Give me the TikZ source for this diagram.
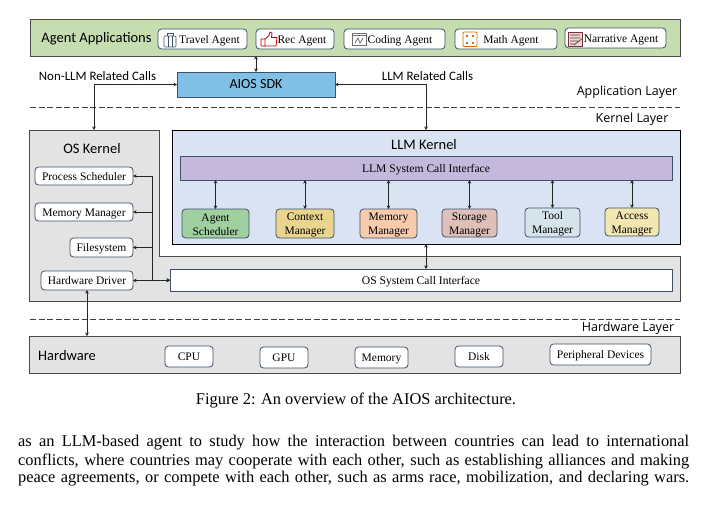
\documentclass[tikz,border=0pt]{standalone}
\usepackage{fontspec}
\setmainfont{Liberation Serif}
\newfontfamily\calfont{Carlito}
\newfontfamily\layerfont{Open Sans}
\usetikzlibrary{arrows.meta,calc}
\definecolor{edgeblue}{HTML}{3F5068}
\definecolor{edgegray}{HTML}{4A4A4A}
\definecolor{appgreen}{HTML}{C5DDB0}
\definecolor{sdkblue}{HTML}{80C0E4}
\definecolor{kernelgray}{HTML}{E3E3E3}
\definecolor{llmblue}{HTML}{DAE3F3}
\definecolor{ifacepurple}{HTML}{C5B8DD}
\definecolor{agentgreen}{HTML}{A0D0A0}
\definecolor{ctxyellow}{HTML}{E9D58D}
\definecolor{memorange}{HTML}{F8CBAD}
\definecolor{storerose}{HTML}{DFC0B8}
\definecolor{toolblue}{HTML}{D5E3EA}
\definecolor{accyellow}{HTML}{F2E6B1}
\newcommand{\bx}[6][]{%
  \pgfmathsetmacro{\bxw}{#5-#3}\pgfmathsetmacro{\bxh}{#6-#4}%
  \pgfmathsetmacro{\bxx}{(#3+#5)/2}\pgfmathsetmacro{\bxy}{(#4+#6)/2}%
  \node[#1,minimum width=\bxw pt,minimum height=\bxh pt] (#2) at (\bxx,\bxy)}
\newcommand{\topstrut}{\rule{0pt}{10.5pt}}
\tikzset{
  x=1pt,y=-1pt,
  basebox/.style={draw,inner sep=0pt,outer sep=0pt,align=center},
  modbox/.style={basebox,draw=edgeblue,line width=.8pt,rounded corners=3.5pt,fill=white,font=\fontsize{11.5}{14}\selectfont},
  roundbox/.style={modbox,text height=10.5pt,text depth=2.5pt},
  panel/.style={draw=edgegray,line width=1pt},
  flatbox/.style={basebox,draw=edgeblue,line width=.8pt,font=\fontsize{11.6}{14}\selectfont,text height=10.5pt,text depth=2.5pt},
  calabel/.style={inner sep=0pt,font=\calfont\fontsize{12.9}{15}\selectfont},
  title/.style={inner sep=0pt,font=\calfont\fontsize{14.5}{17}\selectfont},
  layerlabel/.style={inner sep=0pt,font=\layerfont\fontsize{12.5}{15}\selectfont},
  link/.style={line width=.7pt,black!85,{Stealth[length=3.5pt,width=3.5pt]}-{Stealth[length=3.5pt,width=3.5pt]}},
  linkone/.style={line width=.7pt,black!85,-{Stealth[length=3.5pt,width=3.5pt]}},
  bodytext/.style={inner sep=0pt,font=\fontsize{16.4}{18}\selectfont},
  dashline/.style={line width=.9pt,black!75,dash pattern=on 6pt off 2.6pt},
}
\begin{document}
\begin{tikzpicture}
\useasboundingbox[fill=white] (0,0) rectangle (705,506);
% panels
\bx[basebox,panel,fill=appgreen]{apps}{30}{19}{680}{56}{};
\path[fill=kernelgray,panel] (29,130) -- (159,130) -- (159,256) -- (680,256) -- (680,301) -- (29,301) -- cycle;
\coordinate (ostop) at (94,130);
\bx[basebox,draw=black,line width=.9pt,fill=llmblue]{llm}{172}{130}{680}{244}{};
\bx[basebox,panel,fill=kernelgray]{hw}{29}{336}{680}{373}{};
% titles
\node[title] (appsT) at (96.5,39) {Agent Applications};
\node[title] (osT) at (92,148.5) {OS Kernel};
\node[title] (llmT) at (424,144.5) {LLM Kernel};
\node[title] (hwT) at (67,356) {Hardware};
% agents
\bx[roundbox]{travel}{158}{29}{247}{49}{\hspace*{14pt}Travel Agent};
\bx[roundbox]{rec}{256}{29}{334}{49}{\hspace*{14pt}Rec Agent};
\bx[roundbox]{coding}{344}{29}{445}{49}{\hspace*{11pt}Coding Agent};
\bx[roundbox]{math}{455}{29}{557}{49}{\hspace*{10pt}Math Agent};
\bx[roundbox]{narr}{565}{28}{666}{48}{\hspace*{11pt}Narrative Agent};
% icons
\draw[edgeblue,line width=.7pt,rounded corners=1pt] (164,36) rectangle (176,47);
\draw[edgeblue,line width=.7pt] (167,36) -- (167,33.5) -- (173,33.5) -- (173,36) (168,36) -- (168,47) (172,36) -- (172,47);
\draw[red!75!black,line width=.8pt,line join=round] (261,39) -- (265,39) -- (265,46) -- (261,46) -- cycle
 (265,39) -- (269,35.5) -- (270,32) -- (272,33) -- (271.5,37.5) -- (277,37.5) -- (276,46) -- (265,46);
\draw[gray!85!black,line width=.8pt] (352.5,33) rectangle (366,45.5) (352.5,35.5) -- (366,35.5);
\draw[gray!85!black,line width=.8pt] (355,43) -- (358,38) -- (360,43) -- (363,38);
\draw[orange!85!black,line width=.9pt,rounded corners=1pt] (463,32) rectangle (477,46.5);
\foreach \ix/\iy in {467/36,473/36,467/42.5,473/42.5}
  \fill[orange!85!black] (\ix-1.3,\iy-1) rectangle (\ix+1.3,\iy+1);
\draw[red!35!black!80,line width=.8pt,fill=red!25!gray!25] (568,32) rectangle (582,46.5);
\draw[red!35!black!80,line width=.7pt] (570,35) -- (580,35) (570,38) -- (580,38) (570,41) -- (578,41) (570,44) -- (574,44) (574,45) -- (583,38);
% sdk
\bx[basebox,draw=edgeblue,line width=.8pt,fill=sdkblue,font=\calfont\fontsize{14}{16}\selectfont,text height=11pt,text depth=2.5pt]{sdk}{177}{72}{335}{97}{AIOS SDK};
\node[calabel] (nonllm) at (97.5,76) {Non-LLM Related Calls};
\node[calabel] (llmcalls) at (427.5,76) {LLM Related Calls};
% layers
\coordinate (d1a) at (30,107); \coordinate (d1b) at (680,107);
\coordinate (d2a) at (30,319); \coordinate (d2b) at (680,319);
\draw[dashline] (d1a) -- (d1b);
\draw[dashline] (d2a) -- (d2b);
\node[layerlabel] (lay1) at (627,92) {Application Layer};
\node[layerlabel] (lay2) at (632,119) {Kernel Layer};
\node[layerlabel] (lay3) at (628,328) {Hardware Layer};
% LLM kernel content
\bx[flatbox,fill=ifacepurple]{llmif}{180}{156}{672}{180}{LLM System Call Interface};
\bx[modbox,fill=agentgreen]{magent}{182}{209}{249}{238}{\topstrut Agent\\Scheduler};
\bx[modbox,fill=ctxyellow]{mctx}{276}{209}{334}{238}{\topstrut Context\\Manager};
\bx[modbox,fill=memorange]{mmem}{360}{209}{417}{238}{\topstrut Memory\\Manager};
\bx[modbox,fill=storerose]{mstore}{442}{209}{497}{237}{\topstrut Storage\\Manager};
\bx[modbox,fill=toolblue]{mtool}{525}{208}{580}{237}{\topstrut Tool\\Manager};
\bx[modbox,fill=accyellow]{macc}{605}{208}{659}{236}{\topstrut Access\\Manager};
\foreach \m in {magent,mctx,mmem,mstore,mtool,macc}
  \draw[link] (\m.north) -- (\m.north |- llmif.south);
% OS content
\bx[roundbox]{ps}{35}{167}{133}{185}{Process Scheduler};
\bx[roundbox]{mm}{35}{203}{133}{221}{Memory Manager};
\bx[roundbox]{fs}{70}{238}{133}{257}{Filesystem};
\bx[roundbox]{hd}{41}{271}{133}{290}{Hardware Driver};
\bx[flatbox,fill=white]{osif}{170}{269}{672}{291}{OS System Call Interface};
\coordinate (bus) at (152,280);
\draw[line width=.7pt,black!85] (bus) -- (bus |- ps.east);
\draw[linkone] (bus |- ps.east) -- (ps.east);
\draw[linkone] (bus |- mm.east) -- (mm.east);
\draw[linkone] (bus |- fs.east) -- (fs.east);
\draw[link] (hd.east) -- (osif.west |- hd.east);
\draw[linkone,line width=1pt] (bus) -- (osif.west |- bus);
% hardware
\bx[roundbox]{cpu}{165}{346}{213}{367}{CPU};
\bx[roundbox]{gpu}{260}{347}{308}{368}{GPU};
\bx[roundbox]{memd}{355}{347}{408}{368}{Memory};
\bx[roundbox]{disk}{455}{346}{503}{367}{Disk};
\bx[roundbox]{peri}{550}{344}{651}{365}{Peripheral Devices};
% connectors
\draw[link] (sdk.north) -- (sdk.north |- apps.south);
\draw[link] (sdk.west) -| (ostop);
\coordinate (llmtop) at (426,130);
\draw[link] (sdk.east) -| (llmtop);
\coordinate (llmbot) at (426,244);
\draw[link] (llmbot) -- (llmbot |- osif.north);
\coordinate (hdbot) at (87,290);
\draw[link] (hdbot) -- (hdbot |- hw.north);
% text
\node[bodytext] (cap) at (356,400) {Figure 2: An overview of the AIOS architecture.};
\node[bodytext,anchor=west] (l1) at (18,443) {\makebox[671pt][s]{as an LLM-based agent to study how the interaction between countries can lead to international}};
\node[bodytext,anchor=west] (l2) at (18,461) {\makebox[671pt][s]{conflicts, where countries may cooperate with each other, such as establishing alliances and making}};
\node[bodytext,anchor=west] (l3) at (18,479) {\makebox[671pt][s]{peace agreements, or compete with each other, such as arms race, mobilization, and declaring wars.}};
\end{tikzpicture}
\end{document}
